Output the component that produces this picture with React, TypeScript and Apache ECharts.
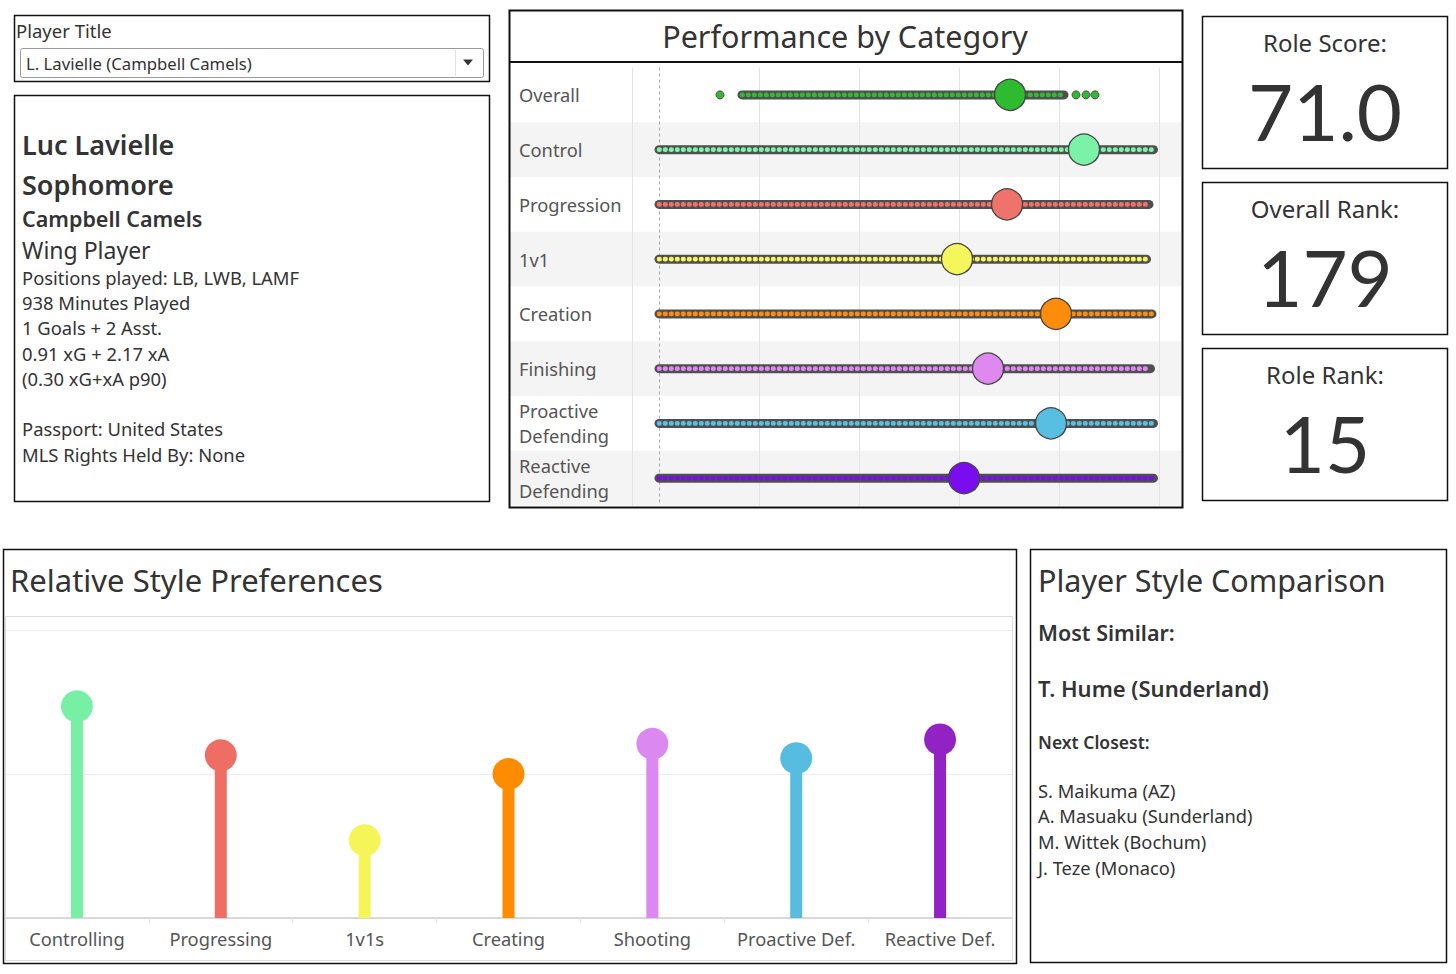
import React, { useEffect, useRef } from "react";
import * as echarts from "echarts";

// ---------- Performance by Category ----------
const rowCats = [
  "Overall",
  "Control",
  "Progression",
  "1v1",
  "Creation",
  "Finishing",
  "Proactive\nDefending",
  "Reactive\nDefending",
];
const rowColors = ["#2fbb2f", "#7cf2a8", "#ef736a", "#f5f55c", "#ff8c0a", "#df88f0", "#58bfe2", "#7a0cf0"];
const distMin = [16.6, 0, 0, 0, 0, 0, 0, 0];
const distMax = [81, 98.9, 98, 97.5, 98.6, 98.3, 98.9, 98.9];
const overallOutliers = [12.2, 83.4, 85.4, 87.2];
const playerScores = [70.2, 85, 69.6, 59.6, 79.4, 65.8, 78.4, 61];
const perfGridTicks = [20, 40, 60, 80, 100];

// ---------- Relative Style Preferences ----------
const styleCats = ["Controlling", "Progressing", "1v1s", "Creating", "Shooting", "Proactive Def.", "Reactive Def."];
const styleValues = [1.47, 1.13, 0.54, 1.0, 1.21, 1.11, 1.24];
const styleColors = ["#77f0a5", "#ee6e66", "#f5f55a", "#ff8c00", "#db88f0", "#56bde0", "#9322c5"];

// ---------- Text content ----------
const playerTitleLabel = "Player Title";
const playerSelected = "L. Lavielle (Campbell Camels)";
const infoLines = [
  { t: "Luc Lavielle", w: 600, s: 27, y: 144 },
  { t: "Sophomore", w: 600, s: 27, y: 184 },
  { t: "Campbell Camels", w: 600, s: 21.5, y: 218 },
  { t: "Wing Player", w: 400, s: 23, y: 250 },
  { t: "Positions played: LB, LWB, LAMF", w: 400, s: 18.4, y: 277 },
  { t: "938 Minutes Played", w: 400, s: 18.4, y: 302 },
  { t: "1 Goals + 2 Asst.", w: 400, s: 18.4, y: 327 },
  { t: "0.91 xG + 2.17 xA", w: 400, s: 18.4, y: 353 },
  { t: "(0.30 xG+xA p90)", w: 400, s: 18.4, y: 378 },
  { t: "Passport: United States", w: 400, s: 18.4, y: 428 },
  { t: "MLS Rights Held By: None", w: 400, s: 18.4, y: 454 },
];
const kpiTitles = ["Role Score:", "Overall Rank:", "Role Rank:"];
const kpiValues = ["71.0", "179", "15"];
const mostSimilar = "T. Hume (Sunderland)";
const nextClosest = ["S. Maikuma (AZ)", "A. Masuaku (Sunderland)", "M. Wittek (Bochum)", "J. Teze (Monaco)"];

const FF = "'Noto Sans', 'Open Sans', sans-serif";
const FF_NUM = "Lato, 'Noto Sans', sans-serif";
const TXT = "#333333";

function txt(
  text: string,
  x: number,
  y: number,
  size: number,
  weight: number | string = 400,
  align = "left",
  family = FF,
  fill = TXT
) {
  return {
    type: "text",
    x,
    y,
    z: 80,
    silent: true,
    style: {
      text,
      font: `${weight} ${size}px ${family}`,
      fill,
      align,
      textAlign: align,
      verticalAlign: "middle",
      textVerticalAlign: "middle",
    },
  };
}

function box(x: number, y: number, w: number, h: number, stroke = "#111", lw = 1.5) {
  return {
    type: "rect",
    z: 60,
    silent: true,
    shape: { x, y, width: w, height: h },
    style: { fill: "none", stroke, lineWidth: lw },
  };
}

export default function App() {
  const ref = useRef<HTMLDivElement>(null);

  useEffect(() => {
    if (!ref.current) return;
    const chart = echarts.init(ref.current, undefined, { renderer: "svg" });

    const graphics: any[] = [];
    // Player title box
    graphics.push(box(14.5, 15.5, 475, 66));
    graphics.push(txt(playerTitleLabel, 16, 30, 18.5, 400));
    graphics.push({
      type: "rect",
      z: 55,
      silent: true,
      shape: { x: 20.5, y: 48.5, width: 463, height: 29, r: 2 },
      style: { fill: "#fff", stroke: "#9a9a9a", lineWidth: 1 },
    });
    graphics.push({
      type: "line",
      z: 56,
      silent: true,
      shape: { x1: 455.5, y1: 50, x2: 455.5, y2: 76 },
      style: { stroke: "#e2e2e2", lineWidth: 1 },
    });
    graphics.push({
      type: "polygon",
      z: 56,
      silent: true,
      shape: { points: [[463, 59.5], [473, 59.5], [468, 65.5]] },
      style: { fill: "#333" },
    });
    graphics.push(txt(playerSelected, 26, 63, 16.7, 400));

    // Info box
    graphics.push(box(14.5, 95.5, 475, 406));
    infoLines.forEach((l) => graphics.push(txt(l.t, 22, l.y, l.s, l.w)));

    // Performance panel
    graphics.push(box(509.5, 10.5, 673, 497, "#111", 2));
    graphics.push({
      type: "line",
      z: 60,
      silent: true,
      shape: { x1: 509, y1: 62, x2: 1182, y2: 62 },
      style: { stroke: "#111", lineWidth: 2 },
    });
    graphics.push(txt("Performance by Category", 845, 36, 30.5, 400, "center"));

    // KPI boxes
    const kpiTops = [16, 182, 348];
    kpiTops.forEach((t, i) => {
      graphics.push(box(1202.5, t + 0.5, 245, 152));
      graphics.push(txt(kpiTitles[i], 1325, t + 26, 24, 400, "center"));
      graphics.push(txt(kpiValues[i], 1325, t + 95, 78, 400, "center", FF_NUM));
    });

    // Relative Style Preferences panel
    graphics.push(box(3.5, 549.5, 1013, 414));
    graphics.push(txt("Relative Style Preferences", 10, 580, 31, 400));
    graphics.push({
      type: "rect",
      z: 5,
      silent: true,
      shape: { x: 5.5, y: 616.5, width: 1007, height: 344 },
      style: { fill: "none", stroke: "#dcdcdc", lineWidth: 1 },
    });

    // Player Style Comparison
    graphics.push(box(1030.5, 549.5, 416, 413));
    graphics.push(txt("Player Style Comparison", 1038, 580, 30.5, 400));
    graphics.push(txt("Most Similar:", 1038, 632, 21.5, 600));
    graphics.push(txt(mostSimilar, 1038, 688, 22, 600));
    graphics.push(txt("Next Closest:", 1038, 742, 17.5, 600));
    nextClosest.forEach((n, i) => graphics.push(txt(n, 1038, 790 + i * 25.7, 18.3, 400)));

    const option: any = {
      animation: false,
      textStyle: { fontFamily: FF },
      graphic: graphics,
      grid: [
        { left: 510, top: 67.5, width: 671, height: 438 },
        { left: 5, top: 630, width: 1007, height: 288 },
      ],
      xAxis: [
        {
          gridIndex: 0,
          type: "value",
          min: -29.8,
          max: 104.4,
          axisLine: { show: false },
          axisTick: { show: false },
          axisLabel: { show: false },
          splitLine: { show: false },
        },
        {
          gridIndex: 1,
          type: "category",
          data: styleCats,
          axisLine: { lineStyle: { color: "#cfcfcf", width: 1.5 } },
          axisTick: { show: true, length: 5, lineStyle: { color: "#e4e4e4" } },
          axisLabel: { interval: 0, fontSize: 18.3, color: "#555", margin: 11, fontFamily: FF },
        },
      ],
      yAxis: [
        {
          gridIndex: 0,
          type: "category",
          data: rowCats,
          inverse: true,
          z: 0,
          axisLine: { show: false },
          axisTick: { show: false },
          axisLabel: {
            inside: true,
            margin: 9,
            align: "left",
            fontSize: 18.3,
            lineHeight: 25,
            color: "#555",
            fontFamily: FF,
          },
          splitArea: { show: true, areaStyle: { color: ["#ffffff", "#f4f4f4"] } },
          splitLine: { show: false },
        },
        {
          gridIndex: 1,
          type: "value",
          min: 0,
          max: 2,
          interval: 1,
          axisLine: { show: false },
          axisTick: { show: false },
          axisLabel: { show: false },
          splitLine: { lineStyle: { color: "#ececec" } },
        },
      ],
      series: [
        {
          type: "scatter",
          xAxisIndex: 0,
          yAxisIndex: 0,
          data: [],
          z: 2,
          silent: true,
          markLine: {
            z: 2,
            silent: true,
            symbol: ["none", "none"],
            label: { show: false },
            lineStyle: { color: "#e3e3e3", type: "solid", width: 1 },
            data: [
              ...perfGridTicks.map((v) => ({ xAxis: v })),
              { xAxis: -5.3 },
              { xAxis: 0, lineStyle: { color: "#a8a8a8", type: [3, 3], width: 1 } },
            ],
          },
        },
        {
          type: "custom",
          xAxisIndex: 0,
          yAxisIndex: 0,
          z: 3,
          silent: true,
          encode: { x: [0, 1], y: 2 },
          data: distMin.map((m, i) => [m, distMax[i], i]),
          renderItem: (params: any, api: any) => {
            const lo = api.coord([api.value(0), api.value(2)]);
            const hi = api.coord([api.value(1), api.value(2)]);
            const color = rowColors[params.dataIndex];
            const shape = { x1: lo[0], y1: lo[1], x2: hi[0], y2: hi[1] };
            return {
              type: "group",
              children: [
                { type: "line", shape, style: { stroke: "#4f4f4f", lineWidth: 9, lineCap: "round" } },
                {
                  type: "line",
                  shape,
                  style: { stroke: color, lineWidth: 4.6, lineCap: "round", lineDash: [0.6, 5.4] },
                },
              ],
            };
          },
        },
        {
          type: "scatter",
          xAxisIndex: 0,
          yAxisIndex: 0,
          z: 4,
          silent: true,
          symbolSize: 8,
          itemStyle: { color: rowColors[0], borderColor: "#4f4f4f", borderWidth: 1, opacity: 1 },
          data: overallOutliers.map((v) => [v, 0]),
        },
        {
          type: "scatter",
          xAxisIndex: 0,
          yAxisIndex: 0,
          z: 5,
          silent: true,
          symbolSize: 31,
          data: playerScores.map((v, i) => ({
            value: [v, i],
            itemStyle: { color: rowColors[i], borderColor: "#444", borderWidth: 1.3, opacity: 1 },
          })),
        },
        {
          type: "bar",
          xAxisIndex: 1,
          yAxisIndex: 1,
          barWidth: 12,
          silent: true,
          data: styleValues.map((v, i) => ({ value: v, itemStyle: { color: styleColors[i] } })),
        },
        {
          type: "scatter",
          xAxisIndex: 1,
          yAxisIndex: 1,
          symbolSize: 32,
          silent: true,
          z: 4,
          data: styleValues.map((v, i) => ({ value: v, itemStyle: { color: styleColors[i], opacity: 1 } })),
        },
      ],
    };

    chart.setOption(option);
    return () => chart.dispose();
  }, []);

  return (
    <div
      ref={ref}
      style={{ position: "absolute", left: 0, top: 0, width: 1456, height: 974, background: "#ffffff" }}
    />
  );
}
